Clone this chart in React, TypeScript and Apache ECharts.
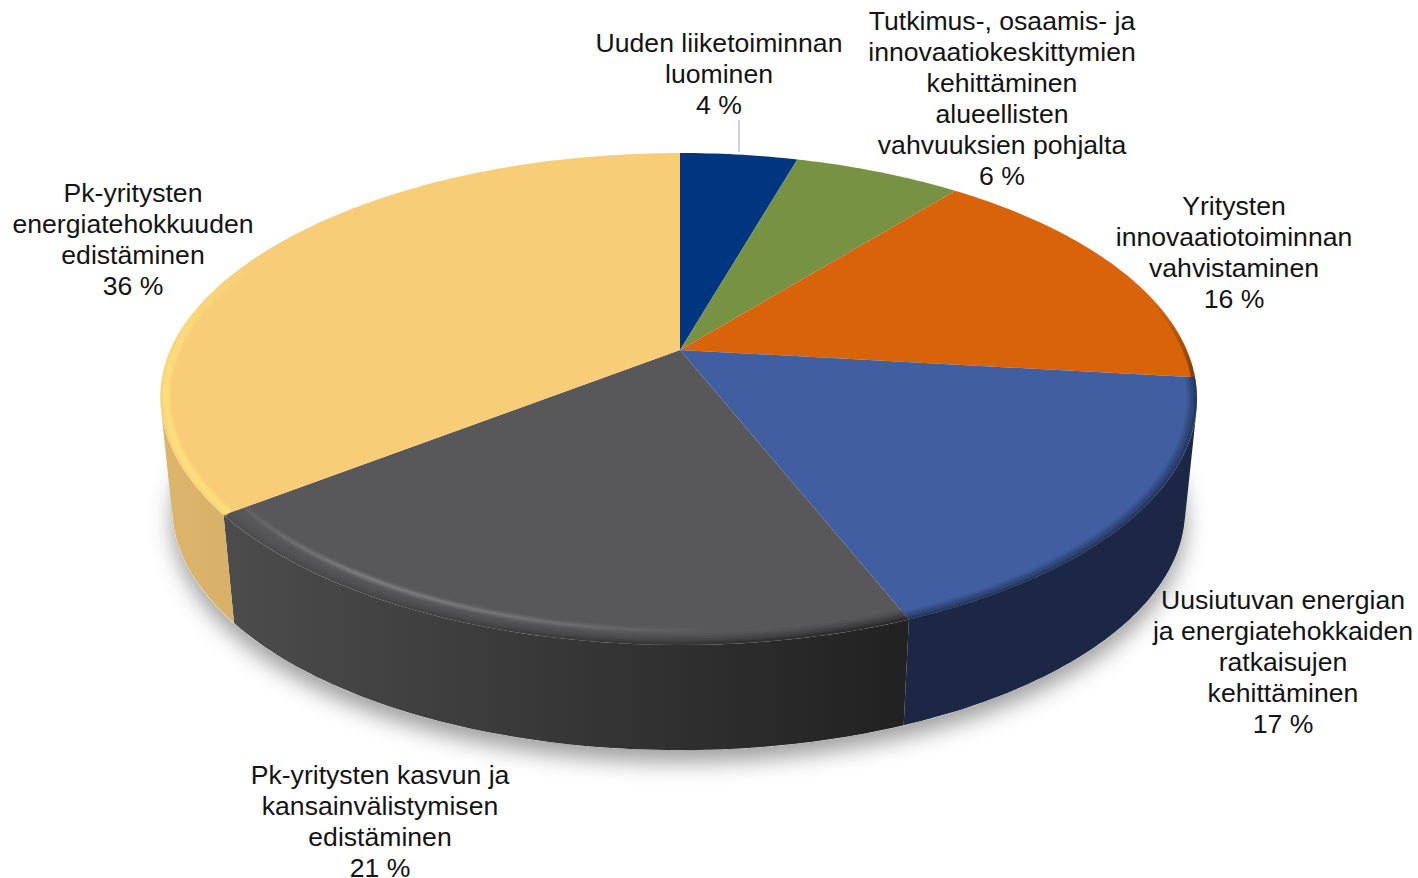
import React, { useEffect, useRef } from "react";
import * as echarts from "echarts";

const categories = [
  "Uuden liiketoiminnan\nluominen",
  "Tutkimus-, osaamis- ja\ninnovaatiokeskittymien\nkehittäminen\nalueellisten\nvahvuuksien pohjalta",
  "Yritysten\ninnovaatiotoiminnan\nvahvistaminen",
  "Uusiutuvan energian\nja energiatehokkaiden\nratkaisujen\nkehittäminen",
  "Pk-yritysten kasvun ja\nkansainvälistymisen\nedistäminen",
  "Pk-yritysten\nenergiatehokkuuden\nedistäminen",
];
const shares = [4.45, 6.35, 16.0, 17.2, 20.5, 35.5];

const topColors = ["#003580", "#789244", "#D8630A", "#405EA0", "#58585A", "#F8CD78"];
const sideGradients = [
  ["#002050", "#002050"],
  ["#48582a", "#48582a"],
  ["#7a3a08", "#8a4408"],
  ["#1B2744", "#1B2744"],
  ["#4c4c4d", "#212122"],
  ["#DDB56B", "#D8B067"],
];
const labelCentres = [
  [719, 74],
  [1002, 98],
  [1234, 252],
  [1283, 662],
  [380, 821],
  [133, 239],
];

// Perspective of the disc
const CX = 680, CY = 350, AX = 506.7, AX_LEFT_BULGE = 3, BY = 236.2, K = 0.1992;
const BASE_DROP = 112, BASE_SCALE = 0.977;

const total = shares.reduce((s, v) => s + v, 0);
const startShare = shares.map((_, i) => shares.slice(0, i).reduce((s, v) => s + v, 0));

function proj(a: number, r = 1): [number, number] {
  const u = r * Math.sin(a);
  const v = -r * Math.cos(a);
  const w = 1 - K * v;
  const ax = AX + (u < 0 ? AX_LEFT_BULGE * Math.pow(u, 8) : 0);
  return [CX + (ax * u) / w, CY + (BY * v) / w];
}
function base(a: number): [number, number] {
  const [x, y] = proj(a);
  return [CX + BASE_SCALE * (x - CX), CY + BASE_DROP + BASE_SCALE * (y - CY)];
}
function arc(a0: number, a1: number, f: (a: number) => [number, number]) {
  const n = Math.max(2, Math.ceil(((a1 - a0) / (2 * Math.PI)) * 360));
  const pts: [number, number][] = [];
  for (let i = 0; i <= n; i++) pts.push(f(a0 + ((a1 - a0) * i) / n));
  return pts;
}
function range(i: number): [number, number] {
  const a0 = (startShare[i] / total) * 2 * Math.PI;
  return [a0, a0 + (shares[i] / total) * 2 * Math.PI];
}
// The wall of the disc faces the viewer where the rim's tangent and the drop to the base turn this way.
function wallFacesViewer(a: number) {
  const e = 1e-3;
  const p0 = proj(a - e), p1 = proj(a + e), p = proj(a), b = base(a);
  const tx = p1[0] - p0[0], ty = p1[1] - p0[1];
  return tx * (b[1] - p[1]) - ty * (b[0] - p[0]) < 0;
}
function visibleRange(a0: number, a1: number): [number, number] | null {
  let lo: number | null = null, hi: number | null = null;
  const n = 720;
  for (let i = 0; i <= n; i++) {
    const a = a0 + ((a1 - a0) * i) / n;
    if (wallFacesViewer(a)) {
      if (lo === null) lo = a;
      hi = a;
    }
  }
  return lo === null || hi === null || hi - lo < 1e-3 ? null : [lo, hi];
}
const grad = (x2: number, y2: number, stops: [number, string][]) => ({
  type: "linear", x: 0, y: 0, x2, y2,
  colorStops: stops.map(([offset, color]) => ({ offset, color })),
});

// Bevel strokes along the rim of each slice
const rimLayers = (i: number) => {
  if (i === 2)
    return [{ r: 0.996, w: 4, stroke: grad(0, 1, [[0, "rgba(90,50,10,0)"], [0.6, "rgba(90,50,10,0)"], [1, "rgba(90,50,10,0.7)"]]) }];
  if (i === 3)
    return [
      { r: 0.99, w: 10, stroke: "rgba(27,39,68,0.12)" },
      { r: 0.992, w: 8, stroke: "rgba(27,39,68,0.16)" },
      { r: 0.994, w: 6, stroke: "rgba(27,39,68,0.22)" },
      { r: 0.997, w: 3, stroke: "rgba(27,39,68,0.4)" },
    ];
  if (i === 4) {
    const hi = (o: number) =>
      grad(1, 0, [
        [0, `rgba(150,150,150,${o * 0.2})`],
        [0.18, `rgba(150,150,150,${o})`],
        [0.4, `rgba(150,150,150,${o * 0.7})`],
        [0.72, "rgba(150,150,150,0)"],
        [1, "rgba(150,150,150,0)"],
      ]);
    const edge = (o: number) =>
      grad(1, 0, [
        [0, `rgba(76,76,77,${o})`],
        [1, `rgba(33,33,34,${o})`],
      ]);
    return [
      { r: 0.982, w: 10, stroke: edge(0.1) },
      { r: 0.986, w: 8, stroke: edge(0.16) },
      { r: 0.99, w: 6, stroke: edge(0.25) },
      { r: 0.994, w: 4, stroke: edge(0.4) },
      { r: 0.997, w: 2, stroke: edge(0.7) },
      { r: 0.96, w: 8, stroke: hi(0.1) },
      { r: 0.96, w: 6, stroke: hi(0.14) },
      { r: 0.96, w: 4, stroke: hi(0.2) },
      { r: 0.96, w: 2, stroke: hi(0.3) },
    ];
  }
  if (i === 5) {
    const hi = (o: number) =>
      grad(0, 1, [
        [0, "rgba(255,228,125,0)"],
        [0.3, "rgba(255,228,125,0)"],
        [0.6, `rgba(255,228,125,${o})`],
        [1, `rgba(255,228,125,${o})`],
      ]);
    return [
      { r: 0.99, w: 11, stroke: hi(0.18) },
      { r: 0.99, w: 8, stroke: hi(0.3) },
      { r: 0.99, w: 5, stroke: hi(0.5) },
    ];
  }
  return [];
};

const renderShadow = () => ({
  type: "polygon",
  shape: { points: arc(0, 2 * Math.PI, base) },
  style: { fill: "#ffffff", shadowBlur: 22, shadowColor: "rgba(0,0,0,0.38)", shadowOffsetX: 0, shadowOffsetY: 12 },
});

const renderSide = (params: any) => {
  const i = params.dataIndex;
  const [a0, a1] = range(i);
  const vis = visibleRange(a0, a1);
  if (!vis) return null;
  const top = arc(vis[0], vis[1], (a) => proj(a));
  const bot = arc(vis[0], vis[1], base).reverse();
  const [c0, c1] = sideGradients[i];
  return {
    type: "polygon",
    shape: { points: [...top, ...bot] },
    style: { fill: grad(1, 0, [[0, c0], [1, c1]]) },
  };
};

const renderTop = (params: any) => {
  const i = params.dataIndex;
  const [a0, a1] = range(i);
  const children: any[] = [
    {
      type: "polygon",
      shape: { points: [[CX, CY], ...arc(a0, a1, (a) => proj(a))] },
      style: { fill: topColors[i] },
    },
  ];
  rimLayers(i).forEach((l) => {
    children.push({
      type: "polyline",
      shape: { points: arc(a0, a1, (a) => proj(a, l.r)) },
      style: { fill: "none", stroke: l.stroke, lineWidth: l.w },
    });
  });
  return { type: "group", children };
};

const renderLabel = (params: any, api: any) => {
  const i = params.dataIndex;
  const [x, y] = labelCentres[i];
  const children: any[] = [
    {
      type: "text",
      x,
      y,
      style: {
        text: `${categories[i]}\n${Math.round(api.value(0))} %`,
        fill: "#141414",
        font: '26.6px "Liberation Sans", Arial, sans-serif',
        lineHeight: 31,
        align: "center",
        verticalAlign: "middle",
      },
    },
  ];
  if (i === 0) {
    children.push({
      type: "line",
      shape: { x1: 739, y1: 120, x2: 739, y2: 152 },
      style: { stroke: "#a6a6a6", lineWidth: 1 },
    });
  }
  return { type: "group", children };
};

export default function App() {
  const ref = useRef<HTMLDivElement>(null);
  useEffect(() => {
    document.body.style.margin = "0";
    document.body.style.background = "#ffffff";
    const chart = echarts.init(ref.current!, undefined, { renderer: "svg" });
    const data = shares.map((v, i) => ({ name: categories[i], value: [v] }));
    chart.setOption({
      animation: false,
      backgroundColor: "#ffffff",
      series: [
        { type: "custom", coordinateSystem: "none", silent: true, data: [[1]], renderItem: renderShadow, z: 1 },
        { type: "custom", coordinateSystem: "none", silent: true, data, renderItem: renderSide, z: 2 },
        { type: "custom", coordinateSystem: "none", silent: true, data, renderItem: renderTop, z: 3 },
        { type: "custom", coordinateSystem: "none", silent: true, data, renderItem: renderLabel, z: 4 },
      ],
    });
    return () => chart.dispose();
  }, []);
  return <div ref={ref} style={{ width: 1418, height: 878, display: "block", overflow: "hidden" }} />;
}
